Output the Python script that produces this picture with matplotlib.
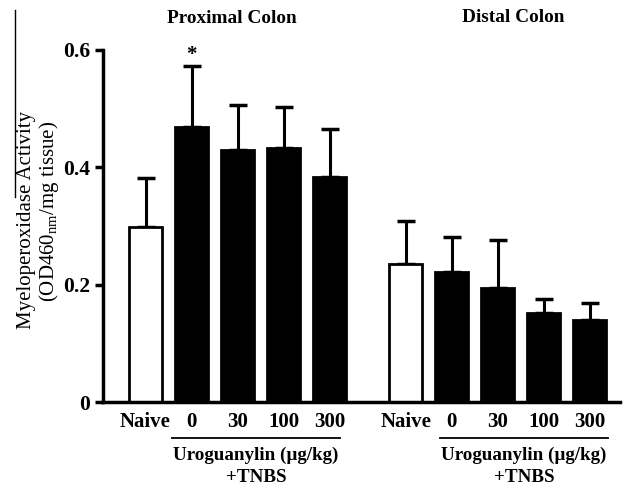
import matplotlib
matplotlib.use('Agg')
import matplotlib.pyplot as plt
from matplotlib.lines import Line2D
import numpy as np

plt.rcParams['font.family'] = 'Liberation Serif'
plt.rcParams['mathtext.fontset'] = 'custom'
plt.rcParams['mathtext.rm'] = 'Liberation Serif'

# data
groups = ['Proximal Colon', 'Distal Colon']
doses = ['Naive', '0', '30', '100', '300']
prox_mean = [0.299, 0.468, 0.430, 0.433, 0.384]
prox_sem = [0.082, 0.105, 0.076, 0.069, 0.082]
dist_mean = [0.236, 0.222, 0.195, 0.151, 0.140]
dist_sem = [0.072, 0.059, 0.081, 0.025, 0.028]
tick_labels = ['0', '0.2', '0.4', '0.6']

fig = plt.figure(figsize=(6.23, 4.87), dpi=100)
ax = fig.add_axes([103/623, 1-402/487, 517/623, 352/487])

gap = 5.66
xp = np.arange(5)
xd = np.arange(5) + gap
width = 0.72
colors = ['white', 'black', 'black', 'black', 'black']

for xs, m, s in [(xp, prox_mean, prox_sem), (xd, dist_mean, dist_sem)]:
    ax.bar(xs, m, width=width, color=colors, edgecolor='black', linewidth=2, zorder=2)
    ax.errorbar(xs, m, yerr=[np.zeros(5), s], fmt='none', ecolor='black',
                elinewidth=2.2, capsize=6.5, capthick=2.5, zorder=1)

ax.set_xlim(-0.924, 10.315)
ax.set_ylim(0, 0.6)
ax.set_yticks([0, 0.2, 0.4, 0.6])
ax.set_yticklabels(tick_labels, fontsize=15.5, fontweight='bold')
ax.set_xticks(list(xp) + list(xd))
ax.set_xticklabels(doses + doses, fontsize=15, fontweight='bold')
ax.tick_params(axis='x', length=0, pad=7)
ax.tick_params(axis='y', length=6, width=2.5, direction='out', pad=3)
for sp in ['top', 'right']:
    ax.spines[sp].set_visible(False)
ax.spines['left'].set_linewidth(2.5)
ax.spines['bottom'].set_linewidth(2.5)

# group underlines and labels
for x0, x1 in [(0.576, 4.23), (6.40, 10.05)]:
    ax.plot([x0, x1], [-0.061, -0.061], color='black', lw=1.3, clip_on=False)
    xc = (x0 + x1) / 2
    ax.text(xc, -0.0915, 'Uroguanylin (\u00b5g/kg)', ha='center', va='center',
            fontsize=13.7, fontweight='bold')
    ax.text(xc, -0.1295, '+TNBS', ha='center', va='center',
            fontsize=13.7, fontweight='bold')

ax.text(1.88, 0.653, groups[0], ha='center', va='center', fontsize=13.9, fontweight='bold')
ax.text(8.0, 0.655, groups[1], ha='center', va='center', fontsize=13.9, fontweight='bold')
ax.text(1, 0.592, '*', ha='center', va='center', fontsize=15, fontweight='bold')

fig.text(27/623, 0.548, 'Myeloperoxidase Activity', rotation=90, ha='center', va='center', fontsize=15)
fig.text(49/623, 0.565, '(OD460$_{\\mathrm{nm}}$/mg tissue)', rotation=90, ha='center', va='center', fontsize=15)

fig.add_artist(Line2D([15/623, 15/623], [1-10/487, 1-197/487], color='black', lw=1))

fig.savefig('out.png', dpi=100)
